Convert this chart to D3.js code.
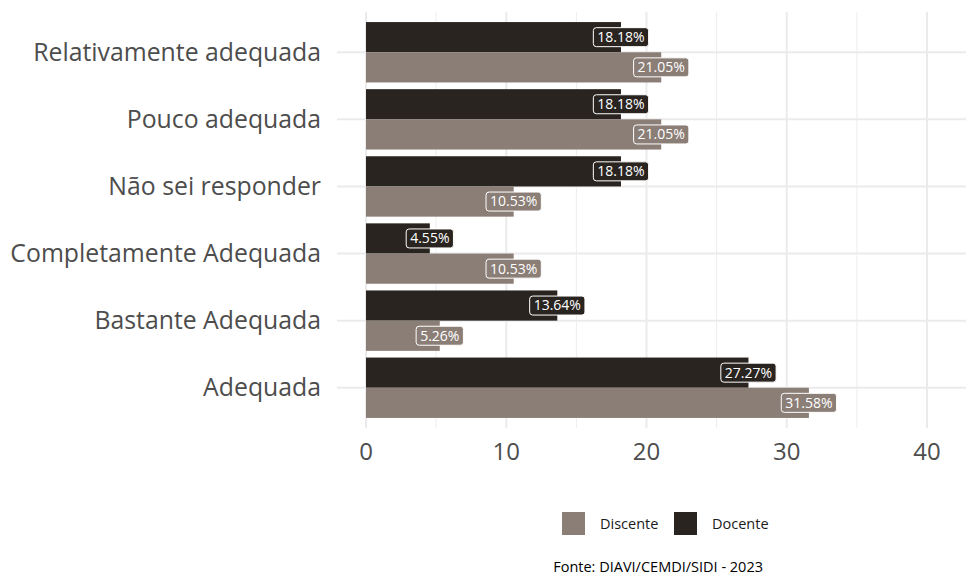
<!DOCTYPE html>
<html>
<head>
<meta charset="utf-8">
<script src="https://cdn.jsdelivr.net/npm/d3@7"></script>
<style>
  body { margin: 0; background: #fff; }
  svg { display: block; font-family: "Open Sans", "Noto Sans", sans-serif; }
</style>
</head>
<body>
<div id="chart"></div>
<script>
const categories = ["Relativamente adequada", "Pouco adequada", "Não sei responder",
  "Completamente Adequada", "Bastante Adequada", "Adequada"];
const groups = ["Docente", "Discente"];
const docente = [18.18, 18.18, 18.18, 4.55, 13.64, 27.27];
const discente = [21.05, 21.05, 10.53, 10.53, 5.26, 31.58];
const xTicks = [0, 10, 20, 30, 40];
const xMinor = [5, 15, 25, 35];
const caption = "Fonte: DIAVI/CEMDI/SIDI - 2023";

const w = 967, h = 579;
const panel = { left: 337, right: 966, top: 12, bottom: 428 };
const colors = { Discente: "#8b7e76", Docente: "#29241f" };

const svg = d3.select("#chart").append("svg")
  .attr("width", w).attr("height", h);

const x = d3.scaleLinear().domain([0, 40]).range([366, 927]);
const y = d3.scaleBand().domain(categories)
  .range([panel.top, panel.bottom])
  .paddingInner(0.1).paddingOuter(0.15);
const sub = d3.scaleBand().domain(groups).range([0, y.bandwidth()]);

// grid
svg.append("g").selectAll("line.minor").data(xMinor).join("line")
  .attr("x1", d => x(d)).attr("x2", d => x(d))
  .attr("y1", panel.top).attr("y2", panel.bottom)
  .attr("stroke", "#ededed").attr("stroke-width", 1);
svg.append("g").selectAll("line.major").data(xTicks).join("line")
  .attr("x1", d => x(d)).attr("x2", d => x(d))
  .attr("y1", panel.top).attr("y2", panel.bottom)
  .attr("stroke", "#ebebeb").attr("stroke-width", 2);
svg.append("g").selectAll("line").data(categories).join("line")
  .attr("x1", panel.left).attr("x2", panel.right)
  .attr("y1", d => y(d) + y.bandwidth() / 2).attr("y2", d => y(d) + y.bandwidth() / 2)
  .attr("stroke", "#ebebeb").attr("stroke-width", 2);

const rows = [];
categories.forEach((c, i) => {
  rows.push({ cat: c, group: "Docente", value: docente[i] });
  rows.push({ cat: c, group: "Discente", value: discente[i] });
});

// bars
svg.append("g").selectAll("rect").data(rows).join("rect")
  .attr("x", x(0))
  .attr("y", d => y(d.cat) + sub(d.group))
  .attr("width", d => x(d.value) - x(0))
  .attr("height", sub.bandwidth())
  .attr("fill", d => colors[d.group]);

// value labels
const labels = svg.append("g").selectAll("g").data(rows).join("g")
  .attr("transform", d => `translate(${x(d.value)},${y(d.cat) + sub(d.group) + sub.bandwidth() / 2})`);
labels.append("text")
  .attr("text-anchor", "middle")
  .attr("dy", "0.35em")
  .attr("font-size", 14)
  .attr("fill", "#fff")
  .text(d => d.value.toFixed(2) + "%");
labels.each(function(d) {
  const g = d3.select(this);
  const bb = g.select("text").node().getBBox();
  g.insert("rect", "text")
    .attr("x", bb.x - 4).attr("y", -9.5)
    .attr("width", bb.width + 8).attr("height", 19)
    .attr("rx", 3)
    .attr("fill", colors[d.group])
    .attr("stroke", "#fff").attr("stroke-width", 1);
});

// y axis labels
svg.append("g").selectAll("text").data(categories).join("text")
  .attr("x", 321)
  .attr("y", d => y(d) + y.bandwidth() / 2)
  .attr("dy", "0.35em")
  .attr("text-anchor", "end")
  .attr("font-size", 24.8)
  .attr("fill", "#4d4d4d")
  .text(d => d);

// x axis labels
svg.append("g").selectAll("text").data(xTicks).join("text")
  .attr("x", d => x(d))
  .attr("y", 452)
  .attr("dy", "0.35em")
  .attr("text-anchor", "middle")
  .attr("font-size", 24)
  .attr("fill", "#4d4d4d")
  .text(d => d);

// legend
const legendItems = ["Discente", "Docente"];
const legendX = [562, 674];
const legend = svg.append("g").selectAll("g").data(legendItems).join("g")
  .attr("transform", (d, i) => `translate(${legendX[i]},512)`);
legend.append("rect")
  .attr("width", 23).attr("height", 23)
  .attr("fill", d => colors[d]);
legend.append("text")
  .attr("x", 38).attr("y", 12).attr("dy", "0.35em")
  .attr("font-size", 14.5).attr("fill", "#1a1a1a")
  .text(d => d);

// caption
svg.append("text")
  .attr("x", 763).attr("y", 572)
  .attr("text-anchor", "end")
  .attr("font-size", 14.5).attr("fill", "#000")
  .text(caption);
</script>
</body>
</html>
